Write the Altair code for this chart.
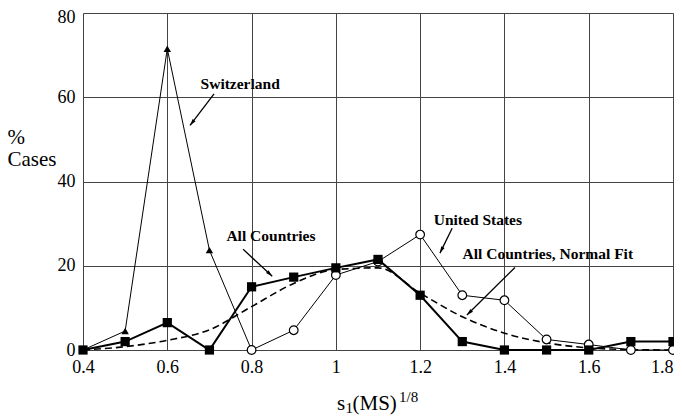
import math
import altair as alt
import pandas as pd

# ---- data ----
x_all = [0.4, 0.5, 0.6, 0.7, 0.8, 0.9, 1.0, 1.1, 1.2, 1.3, 1.4, 1.5, 1.6, 1.7, 1.8]
all_countries = [0, 2, 6.5, 0, 15, 17.3, 19.5, 21.5, 13, 2, 0, 0, 0, 2, 2]
normal_fit = [0, 0.8, 2.3, 4.8, 10.3, 15.8, 19.1, 19.5, 13.5, 7.9, 4.0, 1.7, 0.5, 0.1, 0]

x_swiss = [0.4, 0.5, 0.6, 0.7, 0.8]
switzerland = [0, 4.5, 71.5, 23.7, 0]

x_us = [0.8, 0.9, 1.0, 1.1, 1.2, 1.3, 1.4, 1.5, 1.6, 1.7, 1.8]
united_states = [0, 4.7, 17.8, 21, 27.4, 13, 11.8, 2.5, 1.3, 0, 0]

x_ticks = [0.4, 0.6, 0.8, 1.0, 1.2, 1.4, 1.6, 1.8]
y_ticks = [0, 20, 40, 60, 80]

labels = ["Switzerland", "All Countries", "United States", "All Countries, Normal Fit"]
label_x = [0.773, 0.846, 1.337, 1.503]
label_y = [63.2, 27.0, 30.8, 22.7]
arrow_x1 = [0.711, 0.780, 1.276, 1.425]
arrow_y1 = [60.8, 23.9, 28.9, 19.6]
arrow_x2 = [0.654, 0.849, 1.247, 1.311]
arrow_y2 = [53.3, 17.5, 23.0, 8.3]

W, H = 590, 337
SERIF = "Liberation Serif"

xs = alt.Scale(domain=[0.4, 1.8], nice=False, zero=False)
ys = alt.Scale(domain=[0, 80], nice=False)

df_all = pd.DataFrame({"x": x_all, "y": all_countries})
df_fit = pd.DataFrame({"x": x_all, "y": normal_fit})
df_sw = pd.DataFrame({"x": x_swiss, "y": switzerland})
df_us = pd.DataFrame({"x": x_us, "y": united_states})

px_per_x = W / 1.4
px_per_y = H / 80
angles = []
for a, b, c, d in zip(arrow_x1, arrow_y1, arrow_x2, arrow_y2):
    dx = (c - a) * px_per_x
    dy = -(d - b) * px_per_y
    angles.append(math.degrees(math.atan2(dx, -dy)) % 360)
df_arr = pd.DataFrame({"x1": arrow_x1, "y1": arrow_y1, "x2": arrow_x2, "y2": arrow_y2, "ang": angles})
df_lab = pd.DataFrame({"label": labels, "x": label_x, "y": label_y})

X = alt.X("x:Q", scale=xs, axis=alt.Axis(values=x_ticks, format="~g", title=None, grid=True,
                                         labelFont=SERIF, labelFontSize=18, labelPadding=8,
                                         labelFlush=False, labelOverlap=False,
                                         labelAlign={"expr": "datum.value >= 1.79 ? 'right' : 'center'"},
                                         tickSize=0, domain=False, labelColor="black", gridColor="#444",
                                         gridWidth=1))
Y = alt.Y("y:Q", scale=ys, axis=alt.Axis(values=y_ticks, title=["%", "Cases"], grid=True,
                                         labelFont=SERIF, labelFontSize=18, labelPadding=8,
                                         labelFlush=False, labelOverlap=False,
                                         labelOffset={"expr": "datum.value >= 79 ? 4 : 0"},
                                         tickSize=0, domain=False, labelColor="black", gridColor="#444",
                                         gridWidth=1, titleAngle=0, titleAlign="left",
                                         titleBaseline="alphabetic",
                                         titleX=-76, titleY=130, titleFont=SERIF, titleFontSize=21,
                                         titleFontWeight="normal", titleLineHeight=22, titleColor="black"))

base_x = alt.X("x:Q", scale=xs)
base_y = alt.Y("y:Q", scale=ys)

fit = alt.Chart(df_fit).mark_line(color="black", strokeDash=[7, 4], strokeWidth=1.6,
                                  interpolate="monotone").encode(x=X, y=Y)
sw_line = alt.Chart(df_sw).mark_line(color="black", strokeWidth=1).encode(x=base_x, y=base_y)
sw_pts = alt.Chart(df_sw).mark_point(shape="triangle-up", filled=True, color="black", size=55,
                                     opacity=1).encode(x=base_x, y=base_y)
us_line = alt.Chart(df_us).mark_line(color="black", strokeWidth=1).encode(x=base_x, y=base_y)
us_pts = alt.Chart(df_us).mark_point(shape="circle", filled=False, fill="white", stroke="black",
                                     strokeWidth=1.2, size=75, opacity=1).encode(x=base_x, y=base_y)
all_line = alt.Chart(df_all).mark_line(color="black", strokeWidth=2).encode(x=base_x, y=base_y)
all_pts = alt.Chart(df_all).mark_square(color="black", size=85, opacity=1).encode(x=base_x, y=base_y)

arr_line = alt.Chart(df_arr).mark_rule(color="black", strokeWidth=1.3).encode(
    x=alt.X("x1:Q", scale=xs), y=alt.Y("y1:Q", scale=ys), x2="x2:Q", y2="y2:Q")
arr_head = alt.Chart(df_arr).mark_point(shape="M0,0L-0.45,1.6L0.45,1.6Z", filled=True, color="black",
                                        size=70, opacity=1).encode(
    x=alt.X("x2:Q", scale=xs), y=alt.Y("y2:Q", scale=ys), angle=alt.Angle("ang:Q", scale=None))

lab = alt.Chart(df_lab).mark_text(font=SERIF, fontWeight="bold", fontSize=15.5, color="black",
                                  align="center", baseline="middle").encode(
    x=alt.X("x:Q", scale=xs), y=alt.Y("y:Q", scale=ys), text="label:N")

one = df_lab.head(1)
t_s = alt.Chart(one).mark_text(text="s", font=SERIF, fontSize=21, align="left",
                               baseline="alphabetic", color="black").encode(
    x=alt.value(254), y=alt.value(397))
t_sub = alt.Chart(one).mark_text(text="1", font=SERIF, fontSize=15, align="left",
                                 baseline="alphabetic", color="black").encode(
    x=alt.value(262.5), y=alt.value(400))
t_ms = alt.Chart(one).mark_text(text="(MS)", font=SERIF, fontSize=21, align="left",
                                baseline="alphabetic", color="black").encode(
    x=alt.value(269.5), y=alt.value(397))
t_sup = alt.Chart(one).mark_text(text="1/8", font=SERIF, fontSize=15, align="left",
                                 baseline="alphabetic", color="black").encode(
    x=alt.value(316), y=alt.value(389))

chart = alt.layer(fit, sw_line, us_line, all_line, sw_pts, us_pts, all_pts,
                  arr_line, arr_head, lab, t_s, t_sub, t_ms, t_sup).properties(
    width=W, height=H,
    autosize=alt.AutoSizeParams(type="none"),
    padding={"left": 75, "top": 5, "right": 1, "bottom": 67},
).configure_view(stroke="black", strokeWidth=1.5).configure(background="white")

chart.save("out.html", embed_options={"renderer": "svg", "actions": False})
